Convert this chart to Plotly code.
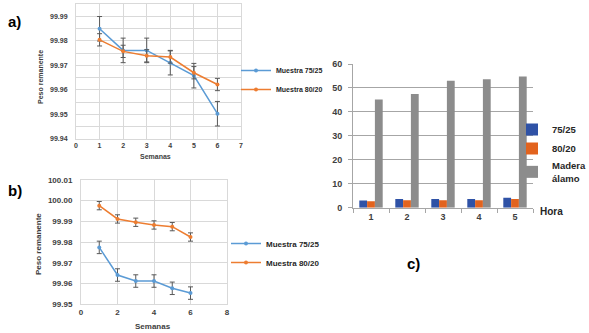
import plotly.graph_objects as go

W, H = 589, 333

# ---------------- data ----------------
semanas = [1, 2, 3, 4, 5, 6]
a_7525 = [99.9849, 99.9761, 99.9761, 99.9711, 99.9658, 99.9503]
a_7525_err = [0.005, 0.005, 0.005, 0.005, 0.005, 0.005]
a_8020 = [99.9804, 99.9757, 99.9739, 99.9734, 99.9670, 99.9622]
a_8020_err = [0.0025, 0.0025, 0.0025, 0.0025, 0.0025, 0.0025]

b_7525 = [99.9774, 99.9641, 99.9612, 99.9612, 99.9577, 99.9554]
b_7525_err = [0.003, 0.003, 0.003, 0.003, 0.003, 0.003]
b_8020 = [99.9975, 99.9911, 99.9895, 99.9882, 99.9874, 99.9824]
b_8020_err = [0.002, 0.002, 0.002, 0.002, 0.002, 0.002]

horas = ["1", "2", "3", "4", "5"]
c_7525 = [3.0, 3.6, 3.6, 3.6, 4.2]
c_8020 = [2.7, 3.1, 3.1, 3.1, 3.6]
c_madera = [45.2, 47.5, 53.0, 53.6, 54.8]

names_line = ["Muestra 75/25", "Muestra 80/20"]
names_bar = ["75/25", "80/20", "Madera<br>álamo"]

BLUE = "#5B9BD5"
ORANGE = "#ED7D31"
ERR = "#595959"
GRID = "#D9D9D9"
FONT = "Liberation Sans"


def px(x):
    return x / W


def py(y):
    return 1 - y / H


fig = go.Figure()


def line_trace(x, y, err, name, color, xa, ya, leg):
    return go.Scatter(
        x=x, y=y, name=name, mode="lines+markers",
        line=dict(color=color, width=1.5),
        marker=dict(color=color, size=4, symbol="circle"),
        error_y=dict(type="data", array=err, color=ERR, thickness=1, width=2.5),
        xaxis=xa, yaxis=ya, legend=leg,
    )


fig.add_trace(line_trace(semanas, a_7525, a_7525_err, names_line[0], BLUE, "x", "y", "legend"))
fig.add_trace(line_trace(semanas, a_8020, a_8020_err, names_line[1], ORANGE, "x", "y", "legend"))
fig.add_trace(line_trace(semanas, b_7525, b_7525_err, names_line[0], BLUE, "x2", "y2", "legend2"))
fig.add_trace(line_trace(semanas, b_8020, b_8020_err, names_line[1], ORANGE, "x2", "y2", "legend2"))

bar_colors = ["#2F52A6", "#E2631E", "#8C8C8C"]
for vals, nm, col in zip([c_7525, c_8020, c_madera], names_bar, bar_colors):
    fig.add_trace(go.Bar(x=horas, y=vals, name=nm, marker=dict(color=col, line=dict(width=0)),
                         xaxis="x3", yaxis="y3", legend="legend3"))

tf_a = dict(family=FONT, size=7, color="#404040", weight="bold")
tf_b = dict(family=FONT, size=8, color="#404040", weight="bold")
tf_c = dict(family=FONT, size=9, color="#404040", weight="bold")

fig.update_layout(
    width=W, height=H, margin=dict(l=0, r=0, t=0, b=0, autoexpand=False),
    paper_bgcolor="white", plot_bgcolor="white",
    barmode="group", bargap=0.35, bargroupgap=0,
    showlegend=True,
    xaxis=dict(domain=[px(76), px(241)], range=[0, 7], dtick=1, tick0=0,
               showgrid=True, gridcolor=GRID, zeroline=False,
               showline=True, linecolor=GRID, mirror=True, tickfont=tf_a, anchor="y"),
    yaxis=dict(domain=[py(139), py(4)], range=[99.94, 99.995], tick0=99.94, dtick=0.01,
               tickformat=".2f", showgrid=True, gridcolor=GRID, zeroline=False,
               minor=dict(dtick=0.005, tick0=99.94, showgrid=True, gridcolor=GRID),
               showline=True, linecolor=GRID, mirror=True, tickfont=tf_a,
               ticklabelstandoff=6, anchor="x"),
    xaxis2=dict(domain=[px(81), px(227)], range=[0, 8], dtick=2, tick0=0,
                showgrid=True, gridcolor=GRID, zeroline=False,
                showline=True, linecolor=GRID, mirror=True, tickfont=tf_b, anchor="y2"),
    yaxis2=dict(domain=[py(304.3), py(179.7)], range=[99.95, 100.01], tick0=99.95, dtick=0.01,
                tickformat=".2f", showgrid=True, gridcolor=GRID, zeroline=False,
                showline=True, linecolor=GRID, mirror=True, tickfont=tf_b,
                ticklabelstandoff=6, anchor="x2"),
    xaxis3=dict(domain=[px(353), px(533)], type="category",
                showgrid=False, zeroline=False, showline=True, linecolor="#A6A6A6",
                ticks="outside", tickson="boundaries", ticklen=4, tickcolor="#A6A6A6",
                tickfont=tf_c, anchor="y3"),
    yaxis3=dict(domain=[py(207.7), py(64)], range=[0, 60], dtick=10, tick0=0,
                showgrid=True, gridcolor="#A6A6A6", zeroline=False,
                showline=True, linecolor="#A6A6A6", ticks="outside", ticklen=4,
                tickcolor="#A6A6A6", tickfont=tf_c, ticklabelstandoff=4, anchor="x3"),
    legend=dict(x=px(236), y=py(80), xanchor="left", yanchor="middle",
                font=dict(family=FONT, size=7, color="#262626", weight="bold"),
                bgcolor="rgba(0,0,0,0)", tracegroupgap=0, itemwidth=30),
    legend2=dict(x=px(226), y=py(253), xanchor="left", yanchor="middle",
                 font=dict(family=FONT, size=8, color="#262626", weight="bold"),
                 bgcolor="rgba(0,0,0,0)", tracegroupgap=0, itemwidth=30),
    legend3=dict(x=px(512), y=py(153), xanchor="left", yanchor="middle",
                 font=dict(family=FONT, size=9.5, color="#262626", weight="bold"),
                 bgcolor="rgba(0,0,0,0)", tracegroupgap=0, itemwidth=30),
)

ann = [
    dict(text="a)", x=px(6), y=py(22), xanchor="left", yanchor="middle", font=dict(size=15, weight="bold")),
    dict(text="b)", x=px(6), y=py(190), xanchor="left", yanchor="middle", font=dict(size=15, weight="bold")),
    dict(text="c)", x=px(413), y=py(263), xanchor="center", yanchor="middle", font=dict(size=15, weight="bold")),
    dict(text="Peso remanente", x=px(40), y=py(77), textangle=-90, xanchor="center", yanchor="middle",
         font=dict(size=7, weight="bold", color="#404040")),
    dict(text="Semanas", x=px(155), y=py(157), xanchor="center", yanchor="middle",
         font=dict(size=7, weight="bold", color="#404040")),
    dict(text="Peso remanente", x=px(38), y=py(244), textangle=-90, xanchor="center", yanchor="middle",
         font=dict(size=8, weight="bold", color="#404040")),
    dict(text="Semanas", x=px(153), y=py(326), xanchor="center", yanchor="middle",
         font=dict(size=8, weight="bold", color="#404040")),
    dict(text="Hora", x=px(538), y=py(211), xanchor="left", yanchor="middle",
         font=dict(size=10, weight="bold", color="#262626")),
]
for a in ann:
    a["xref"] = "paper"
    a["yref"] = "paper"
    a["showarrow"] = False
    a["font"].setdefault("family", FONT)
    a["font"].setdefault("color", "black")
fig.update_layout(annotations=ann)

fig.write_html("out.html", config={"displayModeBar": False},
               post_script="document.body.style.margin='0px';document.body.style.overflow='hidden';")
